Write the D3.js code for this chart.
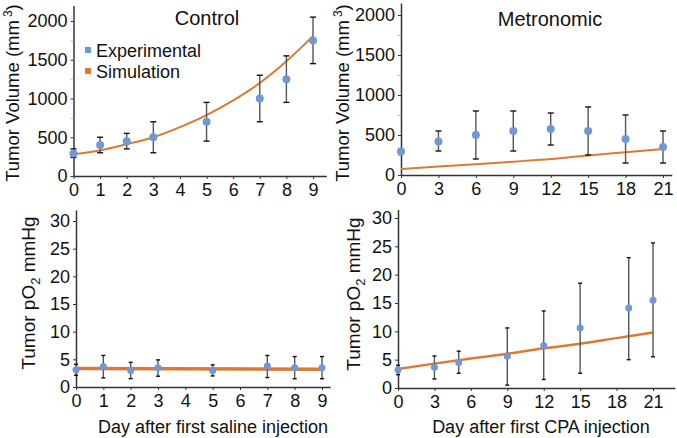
<!DOCTYPE html>
<html><head><meta charset="utf-8">
<script src="https://cdn.jsdelivr.net/npm/d3@7"></script>
<style>
body{margin:0;background:#fff;}
svg{display:block;font-family:"Liberation Sans",Arial,sans-serif;}
</style></head>
<body>
<svg id="c" width="677" height="438"></svg>
<script>
// ---------- DATA ----------
const ctrlDays = [0, 1, 2, 3, 5, 7, 8, 9];
const ctrlVolMean = [290, 400, 450, 500, 700, 1000, 1250, 1750];
const ctrlVolLo = [240, 300, 350, 300, 450, 700, 950, 1450];
const ctrlVolHi = [350, 500, 550, 700, 950, 1300, 1550, 2050];
const ctrlVolSimDays = [0, 1, 2, 3, 4, 5, 6, 7, 8, 9];
const ctrlVolSim = [280, 330, 410, 500, 630, 785, 975, 1200, 1480, 1805];

const metVolDays = [0, 3, 6, 9, 12, 15, 18, 21];
const metVolMean = [295, 420, 500, 550, 575, 550, 450, 350];
const metVolLo = [270, 300, 200, 300, 375, 250, 150, 150];
const metVolHi = [320, 550, 800, 800, 775, 850, 750, 550];
const metVolSimDays = [0, 3, 6, 9, 12, 15, 18, 21];
const metVolSim = [75, 105, 135, 167, 200, 245, 285, 325];

const ctrlPo2Days = [0, 1, 2, 3, 5, 7, 8, 9];
const ctrlPo2Mean = [3.1, 3.7, 3.0, 3.5, 3.0, 3.8, 3.5, 3.5];
const ctrlPo2Lo = [2.1, 1.65, 1.5, 1.95, 2.0, 1.7, 1.5, 1.5];
const ctrlPo2Hi = [4.1, 5.7, 4.45, 4.9, 4.0, 5.7, 5.5, 5.5];
const ctrlPo2SimDays = [0, 9];
const ctrlPo2Sim = [3.35, 3.2];

const metPo2Days = [0, 3, 5, 9, 12, 15, 19, 21];
const metPo2Mean = [3.2, 3.65, 4.5, 5.6, 7.5, 10.6, 14.1, 15.5];
const metPo2Lo = [2.35, 1.6, 2.6, 0.5, 1.5, 2.6, 5.0, 5.5];
const metPo2Hi = [4.0, 5.65, 6.5, 10.6, 13.6, 18.5, 23.0, 25.6];
const metPo2SimDays = [0, 3, 6, 9, 12, 15, 18, 21];
const metPo2Sim = [3.35, 4.3, 5.2, 6.05, 7.0, 7.8, 8.8, 9.8];

const ctrlXTicks = [0, 1, 2, 3, 4, 5, 6, 7, 8, 9];
const metXTicks = [0, 3, 6, 9, 12, 15, 18, 21];
const volYTicks = [0, 500, 1000, 1500, 2000];
const volYMinor = [250, 750, 1250, 1750];
const po2YTicks = [0, 5, 10, 15, 20, 25, 30];

const legendLabels = ["Experimental", "Simulation"];
const titles = ["Control", "Metronomic"];
const xTitles = ["Day after first saline injection", "Day after first CPA injection"];

// ---------- STYLE ----------
const BLUE = "#7098d4", ORANGE = "#d97a35", AXIS = "#333";
const svg = d3.select("#c");

const panels = [
  {x0:73.5, x1:313, xd:9, xmax:9.5, y0:176, y1:21, yd:2000, ymax:2200,
   days:ctrlDays, mean:ctrlVolMean, lo:ctrlVolLo, hi:ctrlVolHi, simX:ctrlVolSimDays, sim:ctrlVolSim,
   xt:ctrlXTicks, yt:volYTicks, ym:volYMinor, r:4, sw:2, cap:3},
  {x0:401, x1:663, xd:21, xmax:21.7, y0:175, y1:15, yd:2000, ymax:2150,
   days:metVolDays, mean:metVolMean, lo:metVolLo, hi:metVolHi, simX:metVolSimDays, sim:metVolSim,
   xt:metXTicks, yt:volYTicks, ym:volYMinor, r:4, sw:2, cap:3},
  {x0:76, x1:322, xd:9, xmax:9.3, y0:387, y1:221, yd:30, ymax:32,
   days:ctrlPo2Days, mean:ctrlPo2Mean, lo:ctrlPo2Lo, hi:ctrlPo2Hi, simX:ctrlPo2SimDays, sim:ctrlPo2Sim,
   xt:ctrlXTicks, yt:po2YTicks, ym:[], r:3.5, sw:3.5, cap:2},
  {x0:398, x1:653, xd:21, xmax:22.8, y0:388, y1:218, yd:30, ymax:31.5,
   days:metPo2Days, mean:metPo2Mean, lo:metPo2Lo, hi:metPo2Hi, simX:metPo2SimDays, sim:metPo2Sim,
   xt:metXTicks, yt:po2YTicks, ym:[], r:3.5, sw:2.5, cap:2}
];

panels.forEach((p, i) => {
  const xs = d3.scaleLinear().domain([0, p.xd]).range([p.x0, p.x1]);
  const ys = d3.scaleLinear().domain([0, p.yd]).range([p.y0, p.y1]);
  const g = svg.append("g");

  // axes
  const xAx = d3.axisBottom(xs.copy().domain([0, p.xmax]).range([p.x0, xs(p.xmax)]))
    .tickValues(p.xt).tickSize(3).tickSizeOuter(0).tickPadding(4).tickFormat(d3.format("d"));
  const xg = g.append("g").attr("transform", `translate(0,${p.y0})`).call(xAx);
  const yAx = d3.axisLeft(ys.copy().domain([0, p.ymax]).range([p.y0, ys(p.ymax)]))
    .tickValues(p.yt).tickSize(3).tickSizeOuter(0).tickPadding(3).tickFormat(d3.format("d"));
  const yg = g.append("g").attr("transform", `translate(${p.x0},0)`).call(yAx);
  if (p.ym.length) {
    g.append("g").attr("transform", `translate(${p.x0},0)`)
      .call(d3.axisLeft(ys).tickValues(p.ym).tickSize(3).tickFormat(""))
      .call(s => s.select(".domain").remove())
      .selectAll("line").attr("stroke", "#bbb");
  }
  [xg, yg].forEach(a => {
    a.select(".domain").attr("stroke", AXIS).attr("stroke-width", 1.5);
    a.selectAll(".tick line").attr("stroke", AXIS);
    a.selectAll("text").attr("font-size", 18).attr("fill", "#111")
      .attr("font-family", "'Liberation Sans',Arial,sans-serif");
  });

  // simulation line
  g.append("path").datum(p.simX.map((d, k) => [d, p.sim[k]]))
    .attr("fill", "none").attr("stroke", ORANGE).attr("stroke-width", p.sw)
    .attr("d", d3.line().x(d => xs(d[0])).y(d => ys(d[1])).curve(d3.curveMonotoneX));

  // error bars
  const eb = g.append("g");
  p.days.forEach((d, k) => {
    const cx = xs(d);
    eb.append("line").attr("x1", cx).attr("x2", cx).attr("y1", ys(p.lo[k])).attr("y2", ys(p.hi[k]))
      .attr("stroke", "#555").attr("stroke-width", 1.4);
    [p.lo[k], p.hi[k]].forEach(v => {
      eb.append("line").attr("x1", cx - p.cap).attr("x2", cx + p.cap).attr("y1", ys(v)).attr("y2", ys(v))
        .attr("stroke", "#111").attr("stroke-width", 1.4);
    });
  });
  // dots
  g.selectAll("circle.pt").data(p.days).enter().append("circle")
    .attr("cx", d => xs(d)).attr("cy", (d, k) => ys(p.mean[k])).attr("r", p.r).attr("fill", BLUE);
});

// titles
svg.append("text").attr("x", 207).attr("y", 25).attr("text-anchor", "middle")
  .attr("font-size", 20).attr("fill", "#111").text(titles[0]);
svg.append("text").attr("x", 550).attr("y", 26).attr("text-anchor", "middle")
  .attr("font-size", 20).attr("fill", "#111").text(titles[1]);

// legend
const leg = svg.append("g");
legendLabels.forEach((l, k) => {
  const cy = 50 + k * 21;
  leg.append("rect").attr("x", 85).attr("y", cy - 3).attr("width", 6).attr("height", 6)
    .attr("fill", k === 0 ? BLUE : ORANGE);
  leg.append("text").attr("x", 96).attr("y", cy + 6.5).attr("font-size", 18).attr("fill", "#111").text(l);
});

// y titles
function volTitle(cx, cy) {
  const t = svg.append("text").attr("transform", `translate(${cx},${cy}) rotate(-90)`)
    .attr("text-anchor", "middle").attr("font-size", 18.5).attr("fill", "#111");
  t.append("tspan").text("Tumor Volume (mm");
  t.append("tspan").attr("dy", -7).attr("dx", 3).attr("font-size", 12).text("3");
  t.append("tspan").attr("dy", 7).text(")");
}
volTitle(19, 93);
volTitle(349, 93);
function po2Title(cx, cy) {
  const t = svg.append("text").attr("transform", `translate(${cx},${cy}) rotate(-90)`)
    .attr("text-anchor", "middle").attr("font-size", 19).attr("fill", "#111");
  t.append("tspan").text("Tumor pO");
  t.append("tspan").attr("dy", 5).attr("font-size", 13).text("2");
  t.append("tspan").attr("dy", -5).text(" mmHg");
}
po2Title(35, 293);
po2Title(360, 294);

// x titles
svg.append("text").attr("x", 213).attr("y", 433).attr("text-anchor", "middle")
  .attr("font-size", 18).attr("fill", "#111").text(xTitles[0]);
svg.append("text").attr("x", 541).attr("y", 433).attr("text-anchor", "middle")
  .attr("font-size", 18).attr("fill", "#111").text(xTitles[1]);
</script>
</body></html>
